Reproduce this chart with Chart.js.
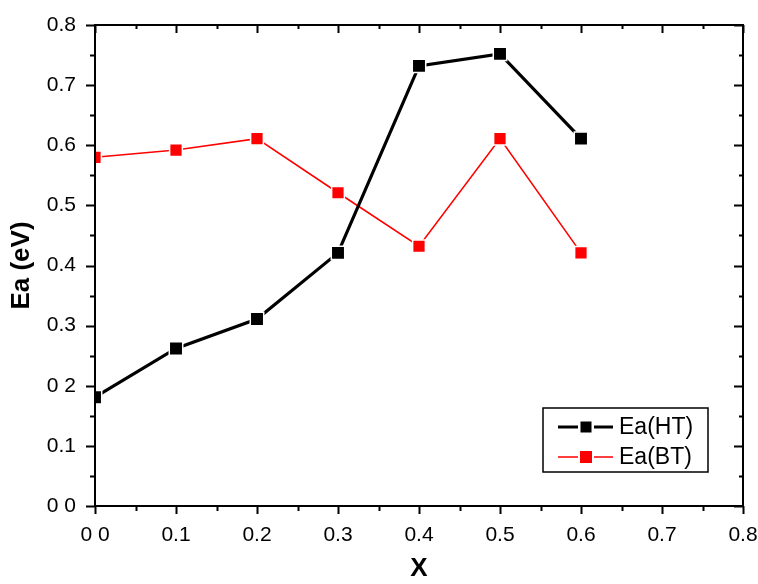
<!DOCTYPE html>
<html>
<head>
<meta charset="utf-8">
<script src="https://cdn.jsdelivr.net/npm/chart.js@4.4.0/dist/chart.umd.min.js"></script>
<style>
  html, body { margin: 0; padding: 0; background: #fff; }
  #wrap { width: 758px; height: 584px; }
</style>
</head>
<body>
<div id="wrap"><canvas id="c" width="758" height="584"></canvas></div>
<script>
// ---- data ----
const xValues = [0.0, 0.1, 0.2, 0.3, 0.4, 0.5, 0.6];
const eaHT = [0.181, 0.262, 0.311, 0.421, 0.732, 0.752, 0.611];
const eaBT = [0.580, 0.592, 0.611, 0.521, 0.432, 0.611, 0.421];
const seriesLabels = ['Ea(HT)', 'Ea(BT)'];
const xTickLabels = ['0 0', '0.1', '0.2', '0.3', '0.4', '0.5', '0.6', '0.7', '0.8'];
const yTickLabels = ['0 0', '0.1', '0 2', '0.3', '0.4', '0.5', '0.6', '0.7', '0.8'];
const xTitle = 'X';
const yTitle = 'Ea (eV)';

const FONT = "Arial, 'Liberation Sans', Helvetica, sans-serif";

const framePlugin = {
  id: 'frame',
  afterDatasetsDraw(chart) {
    const ctx = chart.ctx;
    const a = chart.chartArea;
    const xs = chart.scales.x, ys = chart.scales.y;
    ctx.save();
    ctx.strokeStyle = '#000';
    ctx.lineWidth = 2;
    ctx.strokeRect(a.left, a.top, a.right - a.left, a.bottom - a.top);
    ctx.beginPath();
    for (let i = 0; i <= 16; i++) {
      const v = i * 0.05;
      const px = Math.round(xs.getPixelForValue(v)) + 0.5;
      const major = i % 2 === 0;
      ctx.moveTo(px, a.bottom);
      ctx.lineTo(px, a.bottom + (major ? 8 : 5));
      ctx.moveTo(px, a.top);
      ctx.lineTo(px, a.top + (major ? 8 : 4));
    }
    for (let i = 0; i <= 16; i++) {
      const v = i * 0.05;
      const py = Math.round(ys.getPixelForValue(v)) + 0.5;
      const major = i % 2 === 0;
      ctx.moveTo(a.left, py);
      ctx.lineTo(a.left - (major ? 9 : 5), py);
      ctx.moveTo(a.right, py);
      ctx.lineTo(a.right - (major ? 9 : 4), py);
    }
    ctx.stroke();
    ctx.restore();
  },
  afterDraw(chart) {
    const ctx = chart.ctx;
    const ds = chart.data.datasets;
    const bx = 543, by = 408, bw = 165, bh = 64;
    ctx.save();
    ctx.fillStyle = '#fff';
    ctx.fillRect(bx, by, bw, bh);
    ctx.strokeStyle = '#000';
    ctx.lineWidth = 1.5;
    ctx.strokeRect(bx, by, bw, bh);
    const rows = [by + 19, by + 49];
    ds.forEach((d, i) => {
      const y = rows[i];
      ctx.strokeStyle = d.borderColor;
      ctx.lineWidth = d.borderWidth;
      ctx.beginPath();
      ctx.moveTo(558, y); ctx.lineTo(578, y);
      ctx.moveTo(594, y); ctx.lineTo(613, y);
      ctx.stroke();
      ctx.fillStyle = d.pointBackgroundColor;
      const s = i === 0 ? 11 : 12;
      ctx.fillRect(586 - s / 2, y - s / 2, s, s);
      ctx.fillStyle = '#000';
      ctx.font = '23px ' + FONT;
      ctx.textBaseline = 'middle';
      ctx.textAlign = 'left';
      ctx.fillText(d.label, 619, y + 1);
    });
    ctx.restore();
  }
};

new Chart(document.getElementById('c'), {
  type: 'line',
  data: {
    labels: xValues,
    datasets: [
      {
        label: seriesLabels[0],
        data: xValues.map((x, i) => ({ x: x, y: eaHT[i] })),
        borderColor: '#000000',
        backgroundColor: '#000000',
        pointBackgroundColor: '#000000',
        pointBorderColor: '#ffffff',
        pointBorderWidth: 1.5,
        borderWidth: 3.2,
        pointStyle: 'rect',
        pointRadius: 9.5,
        pointHoverRadius: 9.5,
        tension: 0,
        fill: false
      },
      {
        label: seriesLabels[1],
        data: xValues.map((x, i) => ({ x: x, y: eaBT[i] })),
        borderColor: '#ff0000',
        backgroundColor: '#ff0000',
        pointBackgroundColor: '#ff0000',
        pointBorderColor: '#ffffff',
        pointBorderWidth: 1.5,
        borderWidth: 1.6,
        pointStyle: 'rect',
        pointRadius: 9,
        pointHoverRadius: 9,
        tension: 0,
        fill: false
      }
    ]
  },
  options: {
    responsive: false,
    animation: false,
    events: [],
    layout: { padding: { top: 25, right: 15, left: 0, bottom: 0 } },
    plugins: {
      legend: { display: false },
      tooltip: { enabled: false }
    },
    scales: {
      x: {
        type: 'linear',
        min: 0, max: 0.8,
        grid: { display: false },
        border: { display: false },
        ticks: {
          stepSize: 0.1,
          padding: 9,
          color: '#000',
          font: { family: FONT, size: 21 },
          maxRotation: 0,
          autoSkip: false,
          callback: (v, i) => xTickLabels[i]
        },
        title: {
          display: true, text: xTitle, color: '#000',
          font: { family: FONT, size: 26, weight: 'bold' },
          padding: { top: 0, bottom: 0 }
        },
        afterFit: (s) => { s.height = 78; s.paddingLeft = 0; s.paddingRight = 0; }
      },
      y: {
        type: 'linear',
        min: 0, max: 0.8,
        grid: { display: false },
        border: { display: false },
        ticks: {
          stepSize: 0.1,
          padding: 11,
          color: '#000',
          font: { family: FONT, size: 21 },
          autoSkip: false,
          callback: (v, i) => yTickLabels[i]
        },
        title: {
          display: true, text: yTitle, color: '#000',
          font: { family: FONT, size: 26, weight: 'bold' },
          padding: { top: 6, bottom: 0 }
        },
        afterFit: (s) => { s.width = 95; s.paddingTop = 0; s.paddingBottom = 0; }
      }
    }
  },
  plugins: [framePlugin]
});
</script>
</body>
</html>
